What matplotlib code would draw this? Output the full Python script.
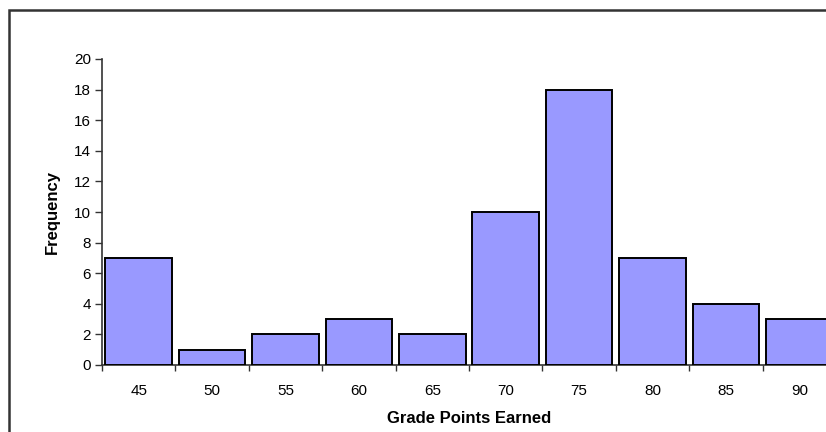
import matplotlib
matplotlib.use("Agg")
import matplotlib.pyplot as plt
from matplotlib.patches import Rectangle
import numpy as np

plt.rcParams["font.family"] = ["Liberation Sans", "DejaVu Sans"]

grades = ["45", "50", "55", "60", "65", "70", "75", "80", "85", "90"]
freq = [7, 1, 2, 3, 2, 10, 18, 7, 4, 3]
y_ticks = [0, 2, 4, 6, 8, 10, 12, 14, 16, 18, 20]

W, H = 826, 432
fig = plt.figure(figsize=(W / 100, H / 100), dpi=100)

# axes placed in pixels, right side runs off the figure like the cropped original
left, right, top, bottom = 102, 836, 59, 365
ax = fig.add_axes([left / W, 1 - bottom / H, (right - left) / W, (bottom - top) / H])

x = np.arange(len(grades))
ax.bar(x, freq, width=0.91, color="#9999ff", edgecolor="black", linewidth=1.4, zorder=3)

ax.set_xlim(-0.5, len(grades) - 0.5)
ax.set_ylim(0, 20)
ax.set_yticks(y_ticks)
ax.set_xticks(x)
ax.set_xticklabels(grades)
ax.set_xticks(np.arange(len(grades) + 1) - 0.5, minor=True)
ax.tick_params(axis="x", which="major", length=0, pad=14, labelsize=11)
ax.tick_params(axis="x", which="minor", length=4, width=1, color="#333333", direction="out")
ax.tick_params(axis="y", length=5, width=1, color="#333333", labelsize=11, pad=3)

for s in ["top", "right"]:
    ax.spines[s].set_visible(False)
for s in ["left", "bottom"]:
    ax.spines[s].set_color("#333333")
    ax.spines[s].set_linewidth(1.2)

ax.set_xlabel("Grade Points Earned", fontsize=12, fontweight="bold", labelpad=9)
ax.set_ylabel("Frequency", fontsize=12, fontweight="bold", labelpad=10)

# outer chart border, cut at right and bottom
fig.patches.append(Rectangle((8.5 / W, -0.1), 1.2, 1 - 10 / H + 0.1,
                             transform=fig.transFigure, fill=False,
                             edgecolor="#333333", linewidth=1.8))

fig.savefig("out.png", dpi=100)
